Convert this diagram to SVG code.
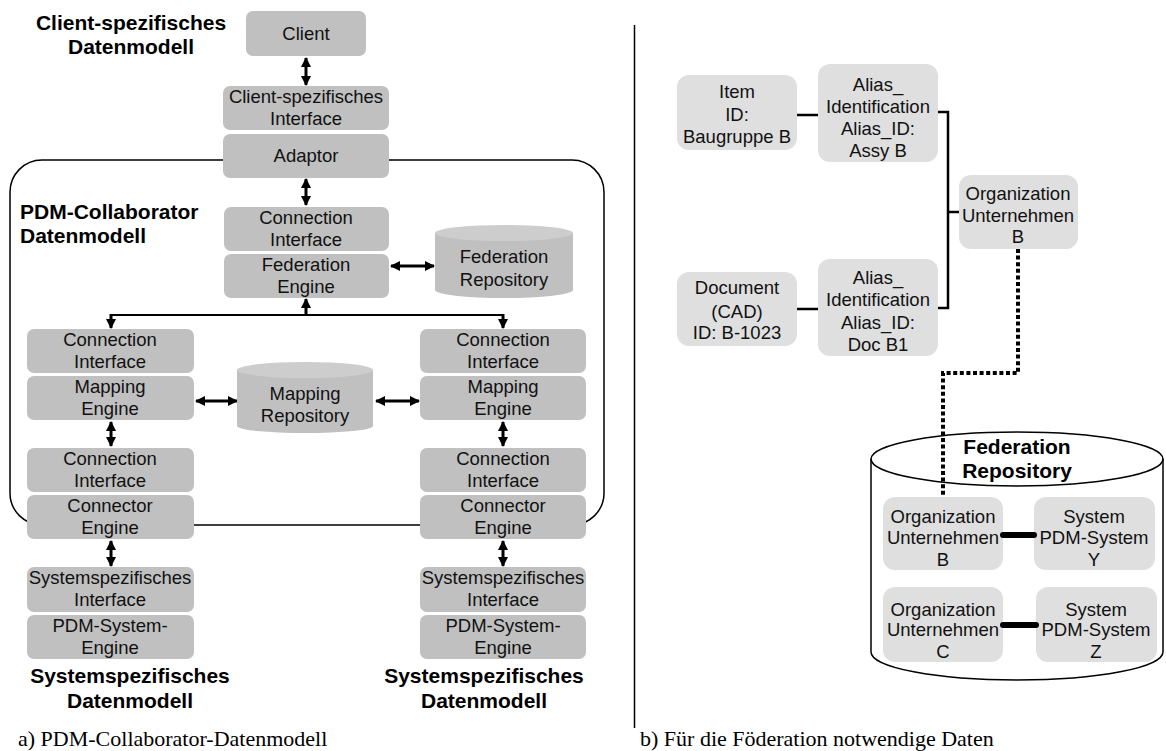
<svg xmlns="http://www.w3.org/2000/svg" width="1166" height="751" viewBox="0 0 1166 751">
  <defs>
    <style>
      .box { fill: #c0c0c0; }
      .lbox { fill: #dfdfdf; }
      .cyl { fill: #c0c0c0; }
      .cyltop { fill: #cdcdcd; }
      .t { font-family: "Liberation Sans", Arial, sans-serif; font-size: 18.5px; fill: #111; text-anchor: middle; }
      .h { font-family: "Liberation Sans", Arial, sans-serif; font-size: 21px; font-weight: bold; fill: #000; text-anchor: middle; }
      .hl { font-family: "Liberation Sans", Arial, sans-serif; font-size: 21px; font-weight: bold; fill: #000; }
      .cap { font-family: "Liberation Serif", "Times New Roman", serif; font-size: 22px; fill: #000; }
      .arr { stroke: #000; stroke-width: 3; fill: none; marker-start: url(#head); marker-end: url(#head); }
      .one { stroke: #000; stroke-width: 3; fill: none; marker-end: url(#head); }
      .ln { stroke: #000; stroke-width: 2; fill: none; }
      .thin { stroke: #000; stroke-width: 1.5; fill: none; }
      .br { stroke: #000; stroke-width: 2.5; fill: none; }
      .dot { stroke: #000; stroke-width: 4; stroke-dasharray: 4 2.6; fill: none; }
      .fat { stroke: #000; stroke-width: 6; stroke-linecap: round; fill: none; }
    </style>
    <marker id="head" viewBox="0 0 10 10" refX="9" refY="5" markerWidth="10" markerHeight="10" markerUnits="userSpaceOnUse" orient="auto-start-reverse">
      <path d="M0,0 L10,5 L0,10 Z" fill="#000"/>
    </marker>
  </defs>

  <rect width="1166" height="751" fill="#fff"/>

  <!-- part a: frame of the collaborator data model -->
  <rect x="10" y="160" width="594" height="365" rx="32" class="thin"/>
  <!-- divider between a) and b) -->
  <line x1="634.5" y1="25" x2="634.5" y2="728" class="thin"/>

  <!-- connectors -->
  <g id="connectors">
    <line x1="306" y1="58" x2="306" y2="85" class="arr"/>
    <line x1="306" y1="179" x2="306" y2="205" class="arr"/>
    <line x1="391" y1="266" x2="434" y2="266" class="arr"/>
    <line x1="111" y1="315" x2="503" y2="315" class="ln"/>
    <line x1="111" y1="314" x2="111" y2="328" class="one"/>
    <line x1="503" y1="314" x2="503" y2="328" class="one"/>
    <line x1="306" y1="316" x2="306" y2="299" class="one"/>
    <line x1="196" y1="401" x2="237" y2="401" class="arr"/>
    <line x1="376" y1="401" x2="419" y2="401" class="arr"/>
    <line x1="111" y1="422" x2="111" y2="446" class="arr"/>
    <line x1="503" y1="422" x2="503" y2="446" class="arr"/>
    <line x1="111" y1="541" x2="111" y2="566" class="arr"/>
    <line x1="503" y1="541" x2="503" y2="566" class="arr"/>
    <!-- part b -->
    <line x1="797" y1="115" x2="818" y2="115" class="br"/>
    <line x1="797" y1="309" x2="818" y2="309" class="br"/>
    <polyline points="937,112 948,112 948,308 937,308" class="br"/>
    <line x1="948" y1="212" x2="959" y2="212" class="br"/>
  </g>

  <!-- titles -->
  <text class="h" x="131" y="30">Client-spezifisches</text>
  <text class="h" x="131" y="54">Datenmodell</text>
  <text class="hl" x="20" y="219">PDM-Collaborator</text>
  <text class="hl" x="20" y="243">Datenmodell</text>
  <text class="h" x="130" y="683">Systemspezifisches</text>
  <text class="h" x="130" y="708">Datenmodell</text>
  <text class="h" x="484" y="683">Systemspezifisches</text>
  <text class="h" x="484" y="708">Datenmodell</text>

  <g id="client">
    <rect x="246" y="11" width="120" height="45" rx="7" class="box"/>
    <text class="t" x="306" y="40">Client</text>
  </g>
  <g id="client-interface">
    <rect x="223" y="86" width="166" height="44" rx="7" class="box"/>
    <text class="t" x="306" y="103">Client-spezifisches</text>
    <text class="t" x="306" y="125">Interface</text>
  </g>
  <g id="adaptor">
    <rect x="223" y="134" width="166" height="44" rx="7" class="box"/>
    <text class="t" x="306" y="162">Adaptor</text>
  </g>
  <g id="fed-interface">
    <rect x="224" y="207" width="165" height="44" rx="7" class="box"/>
    <text class="t" x="306" y="224">Connection</text>
    <text class="t" x="306" y="246">Interface</text>
  </g>
  <g id="fed-engine">
    <rect x="224" y="254" width="165" height="44" rx="7" class="box"/>
    <text class="t" x="306" y="271">Federation</text>
    <text class="t" x="306" y="293">Engine</text>
  </g>
  <g id="fed-repository">
    <path d="M435,233 L435,290 A69,8 0 0 0 573,290 L573,233 Z" class="cyl"/>
    <ellipse cx="504" cy="233" rx="69" ry="8" class="cyltop"/>
    <text class="t" x="504" y="263">Federation</text>
    <text class="t" x="504" y="286">Repository</text>
  </g>

  <g id="map-interface-l">
    <rect x="27" y="329" width="167" height="44" rx="7" class="box"/>
    <text class="t" x="110" y="346">Connection</text>
    <text class="t" x="110" y="368">Interface</text>
  </g>
  <g id="map-engine-l">
    <rect x="27" y="376" width="167" height="44" rx="7" class="box"/>
    <text class="t" x="110" y="393">Mapping</text>
    <text class="t" x="110" y="415">Engine</text>
  </g>
  <g id="map-interface-r">
    <rect x="420" y="329" width="166" height="44" rx="7" class="box"/>
    <text class="t" x="503" y="346">Connection</text>
    <text class="t" x="503" y="368">Interface</text>
  </g>
  <g id="map-engine-r">
    <rect x="420" y="376" width="166" height="44" rx="7" class="box"/>
    <text class="t" x="503" y="393">Mapping</text>
    <text class="t" x="503" y="415">Engine</text>
  </g>
  <g id="map-repository">
    <path d="M237,370 L237,426 A68,7 0 0 0 373,426 L373,370 Z" class="cyl"/>
    <ellipse cx="305" cy="370" rx="68" ry="8" class="cyltop"/>
    <text class="t" x="305" y="400">Mapping</text>
    <text class="t" x="305" y="422">Repository</text>
  </g>

  <g id="con-interface-l">
    <rect x="27" y="448" width="167" height="44" rx="7" class="box"/>
    <text class="t" x="110" y="465">Connection</text>
    <text class="t" x="110" y="487">Interface</text>
  </g>
  <g id="con-engine-l">
    <rect x="27" y="495" width="167" height="44" rx="7" class="box"/>
    <text class="t" x="110" y="512">Connector</text>
    <text class="t" x="110" y="534">Engine</text>
  </g>
  <g id="con-interface-r">
    <rect x="420" y="448" width="166" height="44" rx="7" class="box"/>
    <text class="t" x="503" y="465">Connection</text>
    <text class="t" x="503" y="487">Interface</text>
  </g>
  <g id="con-engine-r">
    <rect x="420" y="495" width="166" height="44" rx="7" class="box"/>
    <text class="t" x="503" y="512">Connector</text>
    <text class="t" x="503" y="534">Engine</text>
  </g>

  <g id="sys-interface-l">
    <rect x="27" y="567" width="167" height="45" rx="7" class="box"/>
    <text class="t" x="110" y="584">Systemspezifisches</text>
    <text class="t" x="110" y="606">Interface</text>
  </g>
  <g id="pdm-engine-l">
    <rect x="27" y="615" width="167" height="44" rx="7" class="box"/>
    <text class="t" x="110" y="632">PDM-System-</text>
    <text class="t" x="110" y="654">Engine</text>
  </g>
  <g id="sys-interface-r">
    <rect x="420" y="567" width="166" height="45" rx="7" class="box"/>
    <text class="t" x="503" y="584">Systemspezifisches</text>
    <text class="t" x="503" y="606">Interface</text>
  </g>
  <g id="pdm-engine-r">
    <rect x="420" y="615" width="166" height="44" rx="7" class="box"/>
    <text class="t" x="503" y="632">PDM-System-</text>
    <text class="t" x="503" y="654">Engine</text>
  </g>

  <!-- part b: federation data -->
  <g id="item">
    <rect x="677" y="75" width="120" height="75" rx="12" class="lbox"/>
    <text class="t" x="737" y="98">Item</text>
    <text class="t" x="737" y="121">ID:</text>
    <text class="t" x="737" y="143">Baugruppe B</text>
  </g>
  <g id="alias-item">
    <rect x="818" y="64" width="120" height="98" rx="12" class="lbox"/>
    <text class="t" x="878" y="91">Alias_</text>
    <text class="t" x="878" y="113">Identification</text>
    <text class="t" x="878" y="135">Alias_ID:</text>
    <text class="t" x="878" y="157">Assy B</text>
  </g>
  <g id="document">
    <rect x="677" y="272" width="120" height="74" rx="12" class="lbox"/>
    <text class="t" x="737" y="294">Document</text>
    <text class="t" x="737" y="318">(CAD)</text>
    <text class="t" x="737" y="339">ID: B-1023</text>
  </g>
  <g id="alias-doc">
    <rect x="818" y="259" width="120" height="97" rx="12" class="lbox"/>
    <text class="t" x="878" y="284">Alias_</text>
    <text class="t" x="878" y="306">Identification</text>
    <text class="t" x="878" y="329">Alias_ID:</text>
    <text class="t" x="878" y="351">Doc B1</text>
  </g>
  <g id="organization">
    <rect x="959" y="175" width="119" height="74" rx="12" class="lbox"/>
    <text class="t" x="1018" y="200">Organization</text>
    <text class="t" x="1018" y="222">Unternehmen</text>
    <text class="t" x="1018" y="243">B</text>
  </g>

  <g id="federation-repository">
    <path d="M871,459 L871,652 A146,28 0 0 0 1163,652 L1163,459" class="thin" fill="#fff"/>
    <ellipse cx="1017" cy="459" rx="146" ry="27" class="thin" fill="#fff"/>
    <text class="h" x="1017" y="454">Federation</text>
    <text class="h" x="1017" y="478">Repository</text>
  </g>

  <!-- link from the organization to its repository entry -->
  <polyline points="1018,249 1018,373 943,373 943,495" class="dot"/>

  <g id="org-b">
    <rect x="883" y="497" width="120" height="73" rx="12" class="lbox"/>
    <text class="t" x="943" y="523">Organization</text>
    <text class="t" x="943" y="544">Unternehmen</text>
    <text class="t" x="943" y="566">B</text>
  </g>
  <g id="sys-y">
    <rect x="1034" y="497" width="121" height="73" rx="12" class="lbox"/>
    <text class="t" x="1094" y="523">System</text>
    <text class="t" x="1094" y="544">PDM-System</text>
    <text class="t" x="1094" y="566">Y</text>
  </g>
  <g id="org-c">
    <rect x="883" y="587" width="120" height="75" rx="12" class="lbox"/>
    <text class="t" x="943" y="616">Organization</text>
    <text class="t" x="943" y="636">Unternehmen</text>
    <text class="t" x="943" y="658">C</text>
  </g>
  <g id="sys-z">
    <rect x="1036" y="587" width="121" height="75" rx="12" class="lbox"/>
    <text class="t" x="1096" y="616">System</text>
    <text class="t" x="1096" y="636">PDM-System</text>
    <text class="t" x="1096" y="658">Z</text>
  </g>
  <line x1="1003" y1="535" x2="1034" y2="535" class="fat"/>
  <line x1="1003" y1="625" x2="1036" y2="625" class="fat"/>

  <text class="cap" x="18" y="746">a) PDM-Collaborator-Datenmodell</text>
  <text class="cap" x="640" y="746">b) Für die Föderation notwendige Daten</text>
</svg>
